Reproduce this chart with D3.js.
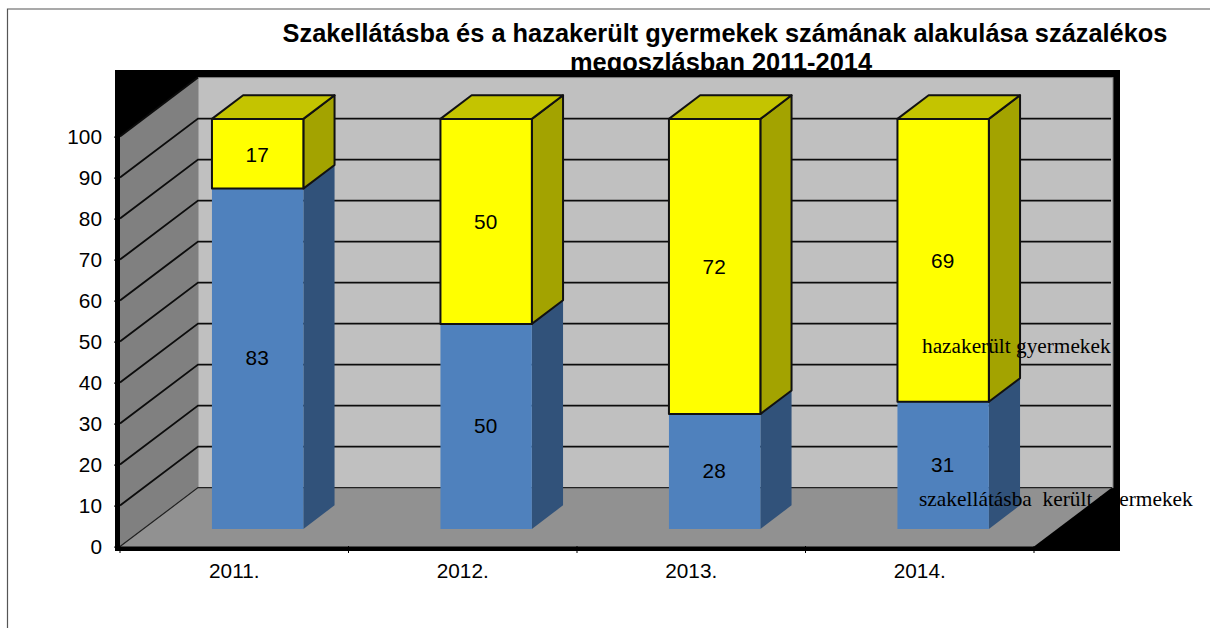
<!DOCTYPE html>
<html>
<head>
<meta charset="utf-8">
<script src="https://cdn.jsdelivr.net/npm/d3@7"></script>
<style>
html,body{margin:0;padding:0;background:#fff;overflow:hidden}
svg{display:block}
text{fill:#000;font-family:"Liberation Sans",Arial,sans-serif}
</style>
</head>
<body>
<svg id="c" width="1210" height="628"></svg>
<script>
const categories = ["2011.", "2012.", "2013.", "2014."];
const specialistCare = [83, 50, 28, 31];
const returnedHome = [17, 50, 72, 69];
const yTicks = [0, 10, 20, 30, 40, 50, 60, 70, 80, 90, 100];
const titleLines = ["Szakellátásba és a hazakerült gyermekek számának alakulása százalékos", "megoszlásban 2011-2014"];
const legendHome = "hazakerült gyermekek";
const legendCare = "szakellátásba  került gyermekek";

const svg = d3.select("#c");
const DX = 78, DY = -59;
const FRONT = 0.3, BACK = 0.7;
const x = d3.scaleBand().domain(categories).range([120, 1034]).paddingInner(0.6).paddingOuter(0.3);
const y = d3.scaleLinear().domain([0, 100]).range([546.6, 136.6]);
const px = (v, d) => v + d * DX;
const py = (v, d) => y(v) + d * DY;
const poly = pts => pts.map(p => p.join(",")).join(" ");
const tickFont = 20.8;

// frame
svg.append("path").attr("d", "M7.5,628V9H1210").attr("fill", "none").attr("stroke", "#555").attr("stroke-width", 1.2);

// title (second line is cut by the plot area drawn after it)
svg.append("g").selectAll("text").data(titleLines).join("text")
  .attr("x", (d, i) => i ? 721 : 725).attr("y", (d, i) => 42 + i * 29)
  .attr("text-anchor", "middle").attr("font-weight", "bold").attr("font-size", 25.4)
  .text(d => d);

// black plot backing
svg.append("rect").attr("x", 115).attr("y", 70).attr("width", 1005).attr("height", 481).attr("fill", "#000");

const xL = x.range()[0], xR = x.range()[1];
// back wall
svg.append("rect")
  .attr("x", px(xL, 1)).attr("y", py(100, 1))
  .attr("width", 1113 - px(xL, 1)).attr("height", y(0) - y(100))
  .attr("fill", "#c0c0c0").attr("stroke", "#808080").attr("stroke-width", 1);
// left wall
svg.append("polygon")
  .attr("points", poly([[xL, y(0)], [xL, y(100)], [px(xL, 1), py(100, 1)], [px(xL, 1), py(0, 1)]]))
  .attr("fill", "#808080");
// floor
svg.append("polygon")
  .attr("points", poly([[xL, y(0)], [px(xL, 1), py(0, 1)], [1112, py(0, 1)], [xR, y(0)]]))
  .attr("fill", "#919191");
svg.append("path")
  .attr("d", `M${xL},${y(0)}L${px(xL, 1)},${py(0, 1)}H1112`)
  .attr("fill", "none").attr("stroke", "#222").attr("stroke-width", 1.2);

// grid
const grid = svg.append("g").attr("fill", "none").attr("stroke", "#0c0c0c").attr("stroke-width", 1.9);
grid.selectAll("path").data(yTicks.filter(t => t > 0)).join("path")
  .attr("d", t => `M${xL},${y(t)}L${px(xL, 1)},${py(t, 1)}` + (t < 100 ? "H1111" : ""));

// bars
const bars = svg.append("g").selectAll("g").data(categories).join("g");
function face(g, pts, fill, stroke) {
  g.append("polygon").attr("points", poly(pts)).attr("fill", fill)
    .attr("stroke", stroke || "none").attr("stroke-width", 2).attr("stroke-linejoin", "round");
}
bars.each(function (c, i) {
  const g = d3.select(this);
  const L = x(c), R = x(c) + x.bandwidth();
  const a = specialistCare[i], t = a + returnedHome[i];
  // blue
  face(g, [[px(R, FRONT), py(0, FRONT)], [px(R, BACK), py(0, BACK)], [px(R, BACK), py(a, BACK)], [px(R, FRONT), py(a, FRONT)]], "#31527a");
  face(g, [[px(L, FRONT), py(0, FRONT)], [px(R, FRONT), py(0, FRONT)], [px(R, FRONT), py(a, FRONT)], [px(L, FRONT), py(a, FRONT)]], "#4f81bd");
  // yellow
  face(g, [[px(R, FRONT), py(a, FRONT)], [px(R, BACK), py(a, BACK)], [px(R, BACK), py(t, BACK)], [px(R, FRONT), py(t, FRONT)]], "#a3a300", "#111");
  face(g, [[px(L, FRONT), py(t, FRONT)], [px(R, FRONT), py(t, FRONT)], [px(R, BACK), py(t, BACK)], [px(L, BACK), py(t, BACK)]], "#c4c400", "#111");
  face(g, [[px(L, FRONT), py(a, FRONT)], [px(R, FRONT), py(a, FRONT)], [px(R, FRONT), py(t, FRONT)], [px(L, FRONT), py(t, FRONT)]], "#ffff00", "#111");
  // value labels
  const lab = (v, mid) => g.append("text")
    .attr("x", px(L + x.bandwidth() / 2, FRONT) - 0.5).attr("y", py(mid, FRONT) + 6.7)
    .attr("text-anchor", "middle").attr("font-size", tickFont).text(v);
  lab(specialistCare[i], a / 2);
  lab(returnedHome[i], a + returnedHome[i] / 2 - 0.3);
});

// axes
const yAxis = svg.append("g").attr("transform", "translate(120,0)")
  .call(d3.axisLeft(y).tickValues(yTicks).tickSize(6).tickPadding(12));
yAxis.select(".domain").remove();
yAxis.selectAll("line").attr("stroke", "#000");
yAxis.selectAll("text").attr("font-size", tickFont).attr("font-family", '"Liberation Sans",Arial,sans-serif');

const xAxis = svg.append("g").attr("transform", "translate(0,546)")
  .call(d3.axisBottom(x).tickSize(0).tickPadding(17));
xAxis.select(".domain").remove();
xAxis.selectAll("text").attr("font-size", tickFont).attr("font-family", '"Liberation Sans",Arial,sans-serif');
xAxis.selectAll(".edge").data(d3.range(categories.length + 1)).join("line").attr("class", "edge")
  .attr("x1", i => xL + i * x.step()).attr("x2", i => xL + i * x.step())
  .attr("y1", 0).attr("y2", 7).attr("stroke", "#000").attr("stroke-width", 1);

// legend text, drawn over everything
svg.append("text").attr("x", 922).attr("y", 353).attr("font-size", 21.3)
  .style("font-family", '"Liberation Serif","Times New Roman",serif').text(legendHome);
svg.append("text").attr("x", 919).attr("y", 506).attr("font-size", 21.4)
  .style("white-space", "pre")
  .style("font-family", '"Liberation Serif","Times New Roman",serif').text(legendCare);
</script>
</body>
</html>
